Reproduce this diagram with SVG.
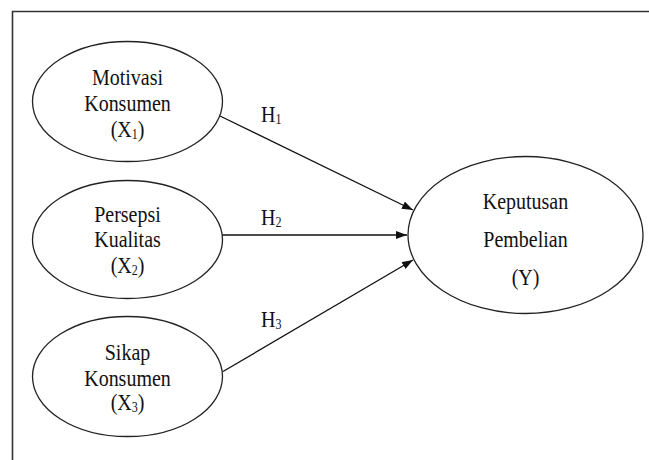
<svg xmlns="http://www.w3.org/2000/svg" width="649" height="460" viewBox="0 0 649 460">
<style>
.frame{stroke:#333;stroke-width:1.6;fill:none}
.node{fill:#fff;stroke:#222;stroke-width:1.3}
.lbl{font-family:'Liberation Serif','DejaVu Serif',serif;font-size:20px;fill:#111;text-anchor:middle}
.h{text-anchor:start}
.sub{font-size:12px}
.conn{stroke:#111;stroke-width:1.3;fill:none;marker-end:url(#ah)}
</style>
<defs>
<marker id="ah" markerUnits="userSpaceOnUse" markerWidth="11" markerHeight="8" refX="11" refY="4" orient="auto">
<path d="M0,0 L11,4 L0,8 z" fill="#111"/>
</marker>
</defs>
<rect width="649" height="460" fill="#fff"/>
<path class="frame" d="M12.5,460 V11.5 H649"/>
<g id="connectors">
<line class="conn" x1="220" y1="116" x2="413" y2="210"/>
<line class="conn" x1="222" y1="235" x2="407" y2="235"/>
<line class="conn" x1="223" y1="371.5" x2="413" y2="260"/>
<text class="lbl h" font-family="Liberation Serif, serif" transform="translate(261,121.5) scale(1,1.18)">H<tspan class="sub" dy="2">1</tspan></text>
<text class="lbl h" font-family="Liberation Serif, serif" transform="translate(261,225) scale(1,1.18)">H<tspan class="sub" dy="2">2</tspan></text>
<text class="lbl h" font-family="Liberation Serif, serif" transform="translate(261,326.5) scale(1,1.18)">H<tspan class="sub" dy="2">3</tspan></text>
</g>
<g id="x1" font-family="Liberation Serif, serif">
<ellipse class="node" cx="127.5" cy="101.5" rx="95" ry="60"/>
<text class="lbl" transform="translate(127.5,85) scale(1,1.18)">Motivasi</text>
<text class="lbl" transform="translate(127.5,110.5) scale(1,1.18)">Konsumen</text>
<text class="lbl" transform="translate(127.5,136.5) scale(1,1.18)">(X<tspan class="sub" dy="2">1</tspan><tspan dy="-2">)</tspan></text>
</g>
<g id="x2" font-family="Liberation Serif, serif">
<ellipse class="node" cx="127.5" cy="239.5" rx="95" ry="59"/>
<text class="lbl" transform="translate(127.5,221.5) scale(1,1.18)">Persepsi</text>
<text class="lbl" transform="translate(127.5,246.5) scale(1,1.18)">Kualitas</text>
<text class="lbl" transform="translate(127.5,272.5) scale(1,1.18)">(X<tspan class="sub" dy="2">2</tspan><tspan dy="-2">)</tspan></text>
</g>
<g id="x3" font-family="Liberation Serif, serif">
<ellipse class="node" cx="127.5" cy="376.5" rx="95" ry="60"/>
<text class="lbl" transform="translate(127.5,360) scale(1,1.18)">Sikap</text>
<text class="lbl" transform="translate(127.5,386) scale(1,1.18)">Konsumen</text>
<text class="lbl" transform="translate(127.5,410) scale(1,1.18)">(X<tspan class="sub" dy="2">3</tspan><tspan dy="-2">)</tspan></text>
</g>
<g id="y" font-family="Liberation Serif, serif">
<ellipse class="node" cx="525.5" cy="235" rx="117.5" ry="78.5"/>
<text class="lbl" transform="translate(525.5,208.5) scale(1,1.18)">Keputusan</text>
<text class="lbl" transform="translate(525.5,246.5) scale(1,1.18)">Pembelian</text>
<text class="lbl" transform="translate(525.5,285) scale(1,1.18)">(Y)</text>
</g>
</svg>
